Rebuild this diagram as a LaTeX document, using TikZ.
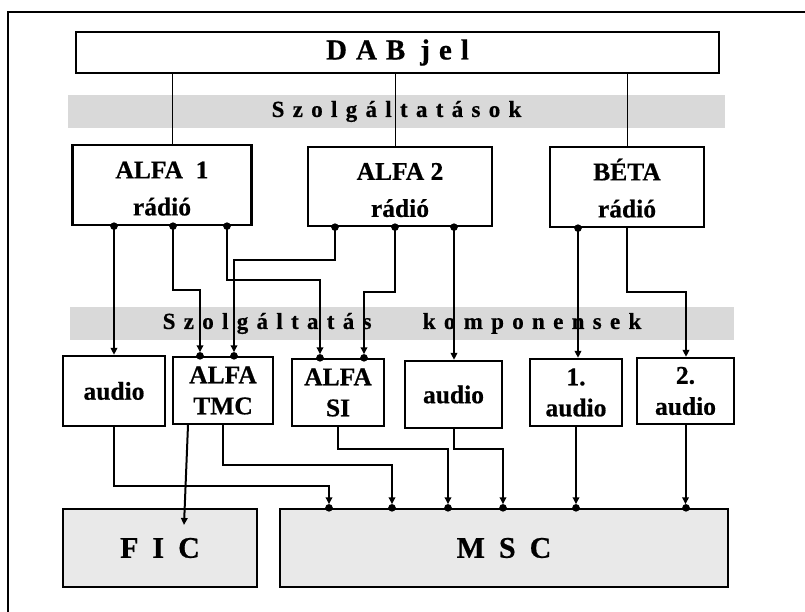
\documentclass[tikz,border=0pt]{standalone}
\usepackage{fontspec}
\setmainfont{Liberation Serif}[BoldFeatures={FakeBold=0.6}]
\usetikzlibrary{arrows.meta, calc}
\definecolor{bandgray}{RGB}{217,217,217}
\definecolor{chgray}{RGB}{233,233,233}
\newcommand{\topstrut}{\rule{0pt}{24pt}}

\begin{document}
\begin{tikzpicture}[
  x=1pt, y=-1pt,
  box/.style={draw, line width=2.3pt, fill=white, align=center, inner sep=0pt,
              font={\fontsize{25.5}{37}\selectfont\bfseries}},
  comp/.style={box, font={\fontsize{25.5}{31}\selectfont\bfseries}},
  chan/.style={draw, line width=2.3pt, fill=chgray, inner sep=0pt,
               font={\fontsize{30}{36}\selectfont\bfseries\spaceskip=14pt\relax}},
  band/.style={fill=bandgray, inner sep=0pt, minimum height=33pt,
               font={\fontsize{23}{26}\selectfont\bfseries\spaceskip=8.3pt\relax}},
  wire/.style={line width=1pt},
  arrow/.style={-{Triangle[length=7pt,width=6.5pt]}, line width=2pt},
  darrow/.style={arrow, shorten >=3.6pt}
]
  \useasboundingbox (0,0) rectangle (805,612);
  \draw[line width=2pt] (8,612) -- (8,12) -- (805,12);

  \node[box, minimum width=643pt, minimum height=41pt,
        font={\fontsize{29}{36}\selectfont\bfseries\spaceskip=9pt\relax}]
        (dab) at (397.5,52.5) {D A B\hspace{6pt} j e l};
  \node[band, minimum width=657pt] (serv) at (396.5,111.5) {S z o l g á l t a t á s o k};

  \node[box, minimum width=179pt, minimum height=80pt] (alfa1) at (162,185)   {\topstrut ALFA\ \ 1\\rádió};
  \node[box, minimum width=184pt, minimum height=79pt] (alfa2) at (400,186.5) {\topstrut ALFA 2\\rádió};
  \node[box, minimum width=154pt, minimum height=80pt] (beta)  at (627,187)   {\topstrut BÉTA\\rádió};

  \node[band, minimum width=664pt] (comps) at (402,323.5)
        {S z o l g á l t a t á s\hspace{43pt} k o m p o n e n s e k};

  \node[comp, minimum width=102pt, minimum height=70pt] (audioa) at (114,391)     {audio};
  \node[comp, minimum width=100pt, minimum height=67pt] (tmc)    at (223,390.5)   {ALFA\\TMC};
  \node[comp, minimum width=92pt,  minimum height=67pt] (si)     at (338,392.5)   {ALFA\\SI};
  \node[comp, minimum width=97pt,  minimum height=67pt] (audiob) at (453.5,394.5) {audio};
  \node[comp, minimum width=92pt,  minimum height=67pt] (audioc) at (576,392.5)   {1.\\audio};
  \node[comp, minimum width=97pt,  minimum height=66pt] (audiod) at (685.5,391)   {2.\\audio};

  \node[chan, minimum width=194pt, minimum height=78pt] (fic) at (160,548) {F I C};
  \node[chan, minimum width=448pt, minimum height=78pt] (msc) at (504,548) {M S C};
  \coordinate (ficin) at (184,525);

  \draw[wire] (172,0 |- dab.south) -- (172,0 |- alfa1.north);
  \draw[wire] (395,0 |- dab.south) -- (395,0 |- alfa2.north);
  \draw[wire] (627,0 |- dab.south) -- (beta.north);

  \draw[arrow]  (114,0 |- alfa1.south) -- (114,0 |- audioa.north);
  \draw[darrow] (173,0 |- alfa1.south) |- (200,290) -- (200,0 |- tmc.north);
  \draw[darrow] (227,0 |- alfa1.south) |- (320,280) -- (320,0 |- si.north);
  \draw[darrow] (335,0 |- alfa2.south) |- (234,260) -- (234,0 |- tmc.north);
  \draw[darrow] (395,0 |- alfa2.south) |- (364,292) -- (364,0 |- si.north);
  \draw[arrow]  (454,0 |- alfa2.south) -- (454,0 |- audiob.north);
  \draw[arrow]  (578,0 |- beta.south) -- (578,0 |- audioc.north);
  \draw[arrow]  (beta.south) |- (686,292) -- (686,0 |- audiod.north);

  \draw[darrow] (audioa.south) |- (329,486) -- (329,0 |- msc.north);
  \draw[arrow]  (188,0 |- tmc.south) -- (ficin);
  \draw[darrow] (tmc.south) |- (392,465) -- (392,0 |- msc.north);
  \draw[darrow] (si.south) |- (448,449) -- (448,0 |- msc.north);
  \draw[darrow] (audiob.south) |- (503,449) -- (503,0 |- msc.north);
  \draw[darrow] (audioc.south) -- (audioc.south |- msc.north);
  \draw[darrow] (audiod.south) -- (audiod.south |- msc.north);

  \foreach \x in {114,173,227} \fill (\x,0 |- alfa1.south) circle (3.8pt);
  \foreach \x in {335,395,454} \fill (\x,0 |- alfa2.south) circle (3.8pt);
  \fill (578,0 |- beta.south) circle (3.8pt);
  \foreach \x in {200,234} \fill (\x,0 |- tmc.north) circle (3.8pt);
  \foreach \x in {320,364} \fill (\x,0 |- si.north) circle (3.8pt);
  \foreach \x in {329,392,448,503,576,686} \fill (\x,0 |- msc.north) circle (3.8pt);
\end{tikzpicture}
\end{document}
